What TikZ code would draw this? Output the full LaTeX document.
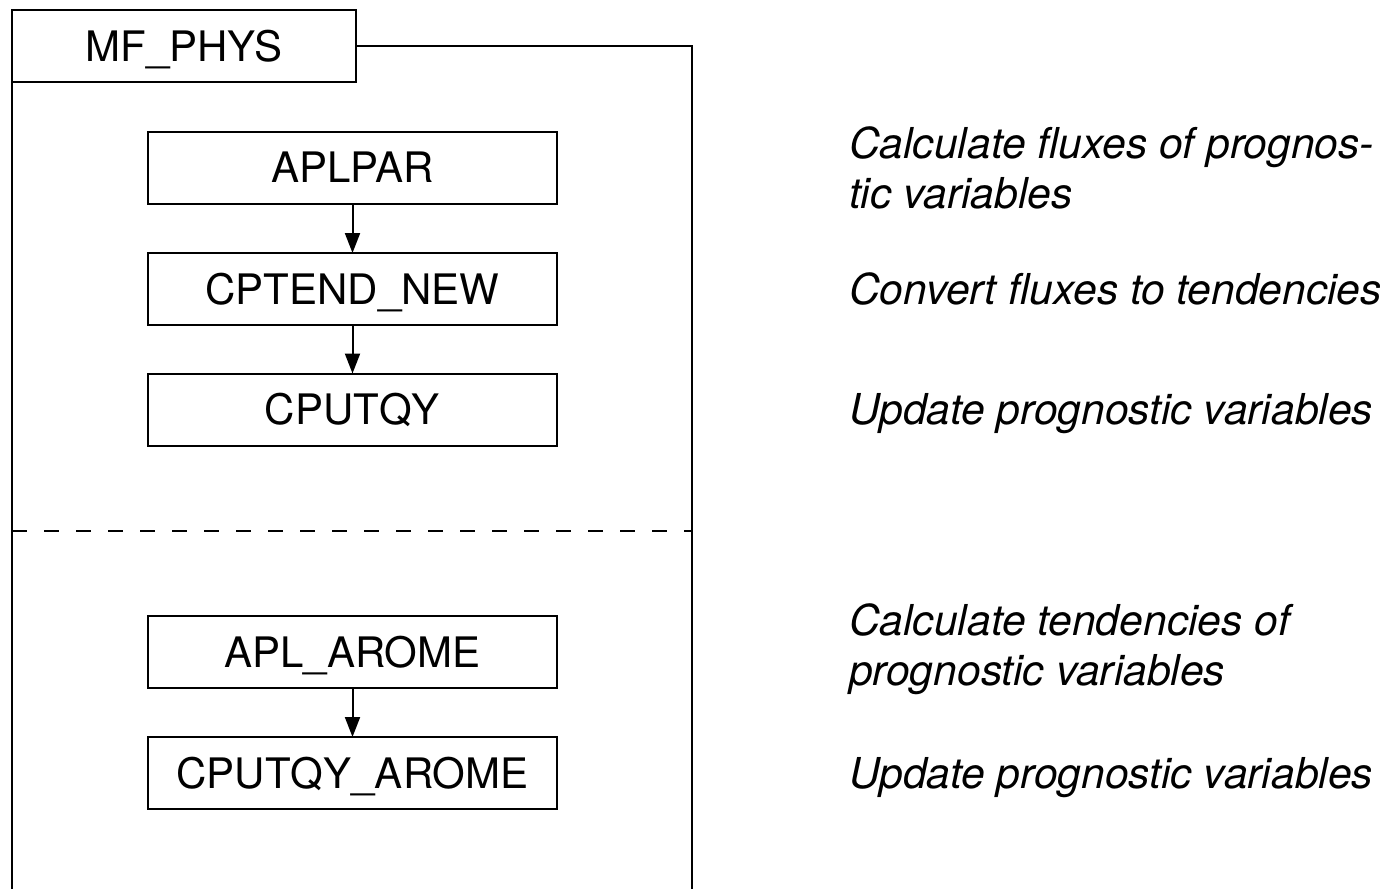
\documentclass[tikz,border=0pt]{standalone}
\usepackage{fontspec}
\setmainfont{TeX Gyre Heros}
\usetikzlibrary{arrows.meta}
\begin{document}
\begin{tikzpicture}[x=1pt,y=-1pt, line width=2pt,
  proc/.style={draw, minimum width=409pt, minimum height=72pt, inner sep=0pt, outer sep=0pt,
    text height=30pt, text depth=0pt, font=\fontsize{42}{50}\selectfont},
  desc/.style={anchor=base west, align=left, inner sep=0pt, font=\fontsize{42.6}{50}\selectfont\itshape},
  flow/.style={-{Triangle[length=20pt,width=15pt]}}]
\useasboundingbox (0,0) rectangle (1398,889);
\node[proc, minimum width=344pt] (mf) at (184,46) {MF\_PHYS};
\node[proc] (aplpar) at (352.5,167.5) {APLPAR};
\node[proc] (cptend) at (352.5,289) {CPTEND\_NEW};
\node[proc] (cputqy) at (352.5,409.5) {CPUTQY};
\node[proc] (apl) at (352.5,652) {APL\_AROME};
\node[proc] (cpa) at (352.5,773) {CPUTQY\_AROME};
\draw[flow] (aplpar) -- (cptend);
\draw[flow] (cptend) -- (cputqy);
\draw[flow] (apl) -- (cpa);
\coordinate (tr) at (692,46);
\coordinate (br) at (692,895);
\coordinate (bl) at (12,895);
\draw (mf.east) -- (tr) -- (br);
\draw (mf.south west) -- (bl);
\coordinate (dl) at (12,531);
\coordinate (dr) at (692,531);
\draw[dash pattern=on 15pt off 17pt] (dl) -- (dr);
\node[desc] (d1) at (848,208) {Calculate fluxes of prognos-\\tic variables};
\node[desc] (d2) at (848,304) {Convert fluxes to tendencies};
\node[desc] (d3) at (848,424.5) {Update prognostic variables};
\node[desc] (d4) at (848,685) {Calculate tendencies of\\prognostic variables};
\node[desc] (d5) at (848,788) {Update prognostic variables};
\end{tikzpicture}
\end{document}
